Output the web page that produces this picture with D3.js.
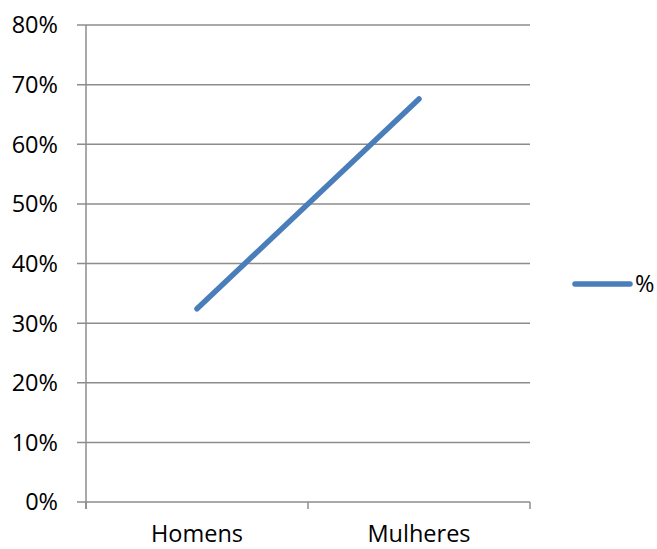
<!DOCTYPE html>
<html>
<head>
<meta charset="utf-8">
<script src="https://cdn.jsdelivr.net/npm/d3@7"></script>
<style>
  html, body { margin: 0; padding: 0; background: #fff; }
  svg text { font-family: "Open Sans", "Noto Sans", sans-serif; fill: #000; }
</style>
</head>
<body>
<svg id="chart" width="657" height="549"></svg>
<script>
// Share of respondents by sex
const categories = ["Homens", "Mulheres"];
const seriesName = "%";
const values = [32.4, 67.6];
const yTicks = [0, 10, 20, 30, 40, 50, 60, 70, 80];

const svg = d3.select("#chart");
const plotLeft = 86, plotRight = 530, plotTop = 25, plotBottom = 502;
const fontSize = 23.5;

const x = d3.scaleBand().domain(categories).range([plotLeft, plotRight]);
const y = d3.scaleLinear().domain([0, 80]).range([plotBottom, plotTop]);

// horizontal gridlines, extended left as tick marks
svg.append("g")
  .selectAll("line")
  .data(yTicks)
  .join("line")
  .attr("x1", plotLeft - 9)
  .attr("x2", plotRight)
  .attr("y1", d => y(d))
  .attr("y2", d => y(d))
  .attr("stroke", "#8c8c8c")
  .attr("stroke-width", 1.5);

// y axis line
svg.append("line")
  .attr("x1", plotLeft).attr("x2", plotLeft)
  .attr("y1", plotTop).attr("y2", plotBottom + 7)
  .attr("stroke", "#8c8c8c").attr("stroke-width", 1.5);

// x category boundary ticks
const xBounds = [plotLeft, ...categories.map(c => x(c) + x.bandwidth())];
svg.append("g")
  .selectAll("line")
  .data(xBounds)
  .join("line")
  .attr("x1", d => d).attr("x2", d => d)
  .attr("y1", plotBottom).attr("y2", plotBottom + 7)
  .attr("stroke", "#8c8c8c").attr("stroke-width", 1.5);

// y tick labels
svg.append("g")
  .selectAll("text")
  .data(yTicks)
  .join("text")
  .attr("x", plotLeft - 28)
  .attr("y", d => y(d))
  .attr("dy", "0.36em")
  .attr("text-anchor", "end")
  .attr("font-size", fontSize)
  .text(d => d + "%");

// x category labels
svg.append("g")
  .selectAll("text")
  .data(categories)
  .join("text")
  .attr("x", d => x(d) + x.bandwidth() / 2)
  .attr("y", 542)
  .attr("text-anchor", "middle")
  .attr("font-size", fontSize)
  .text(d => d);

// series line
const line = d3.line()
  .x((d, i) => x(categories[i]) + x.bandwidth() / 2)
  .y(d => y(d));

svg.append("path")
  .datum(values)
  .attr("d", line)
  .attr("fill", "none")
  .attr("stroke", "#4a7ebb")
  .attr("stroke-width", 5.5)
  .attr("stroke-linecap", "round")
  .attr("stroke-linejoin", "round");

// legend
const legend = svg.append("g").attr("transform", "translate(575,284)");
legend.append("line")
  .attr("x1", 0).attr("x2", 55)
  .attr("y1", 0).attr("y2", 0)
  .attr("stroke", "#4a7ebb")
  .attr("stroke-width", 5.5)
  .attr("stroke-linecap", "round");
legend.append("text")
  .attr("x", 60)
  .attr("y", 0)
  .attr("dy", "0.36em")
  .attr("font-size", fontSize)
  .text(seriesName);
</script>
</body>
</html>
